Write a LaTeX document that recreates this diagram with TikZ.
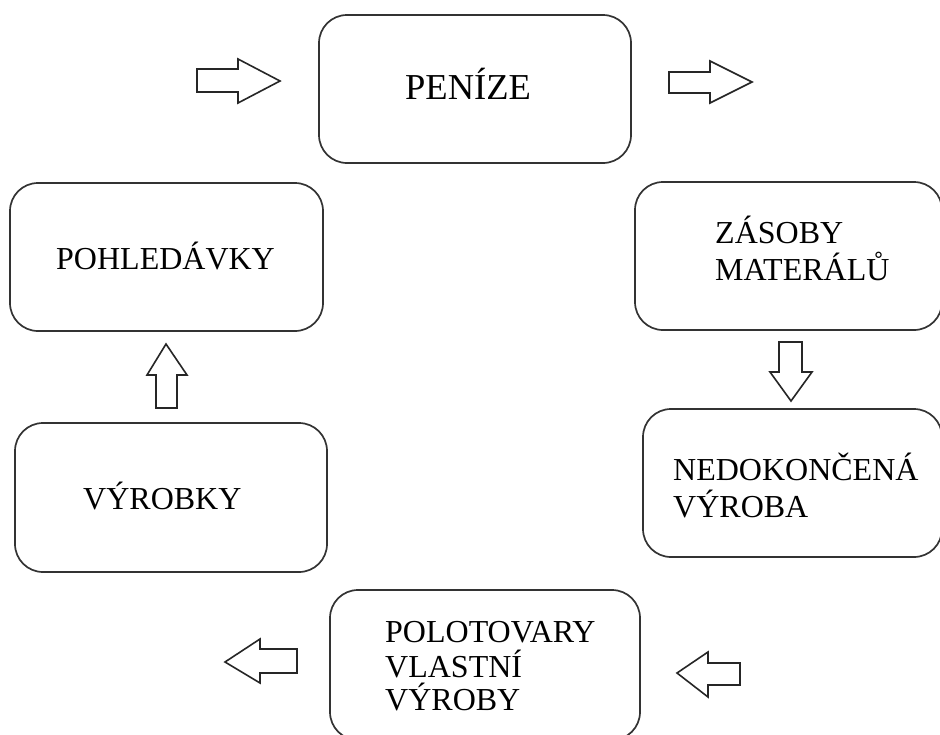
\documentclass[tikz,border=0pt]{standalone}
\usepackage{fontspec}
\setmainfont{Liberation Serif}
\begin{document}
\begin{tikzpicture}[x=1pt,y=-1pt,
  box/.style={draw=black!80, line width=1.7pt, rounded corners=28pt, rectangle, inner sep=0pt},
  blockarrow/.style={draw=black!85, line width=1.6pt, fill=white, line join=miter},
  lbl/.style={anchor=base west, inner sep=0pt, text=black, font=\fontsize{32}{35}\selectfont},
  biglbl/.style={lbl, font=\fontsize{36.5}{40}\selectfont}]
\useasboundingbox (0,0) rectangle (940,734);
\clip (0,0) rectangle (940,734);
\fill[white] (0,0) rectangle (940,734);

% boxes
\node[box, minimum width=312pt, minimum height=148pt] (peni) at (475,89) {};
\node[box, minimum width=313pt, minimum height=148pt] (pohl) at (166.5,257) {};
\node[box, minimum width=307pt, minimum height=148pt] (zaso) at (788.5,256) {};
\node[box, minimum width=299pt, minimum height=148pt] (nedo) at (792.5,483) {};
\node[box, minimum width=312pt, minimum height=149pt] (vyro) at (171,497.5) {};
\node[box, minimum width=310pt, minimum height=150pt] (polo) at (485,665) {};

% labels
\node[biglbl] (tpeni) at (405,99) {PENÍZE};
\node[lbl] (tpohl) at (56,269) {POHLEDÁVKY};
\node[lbl] (tvyro) at (83,509) {VÝROBKY};
\node[lbl] (tzas1) at (715,243) {ZÁSOBY};
\node[lbl] (tzas2) at (715,280) {MATERÁLŮ};
\node[lbl] (tned1) at (673,480) {NEDOKONČENÁ};
\node[lbl] (tned2) at (673,517) {VÝROBA};
\node[lbl] (tpol1) at (385,642) {POLOTOVARY};
\node[lbl] (tpol2) at (385,677) {VLASTNÍ};
\node[lbl] (tpol3) at (385,710) {VÝROBY};

% block arrows
\draw[blockarrow] (197,69) -- (238,69) -- (238,59) -- (280,81) -- (238,103) -- (238,92) -- (197,92) -- cycle;
\draw[blockarrow] (669,72) -- (710,72) -- (710,61) -- (752,82) -- (710,103) -- (710,93) -- (669,93) -- cycle;
\draw[blockarrow] (779,342) -- (802,342) -- (802,372) -- (812,372) -- (791,401) -- (770,372) -- (779,372) -- cycle;
\draw[blockarrow] (156,408) -- (177,408) -- (177,375) -- (187,375) -- (166,344) -- (147,375) -- (156,375) -- cycle;
\draw[blockarrow] (297,649) -- (260,649) -- (260,639) -- (225,662) -- (260,683) -- (260,673) -- (297,673) -- cycle;
\draw[blockarrow] (740,663) -- (708,663) -- (708,652) -- (677,673) -- (708,697) -- (708,685) -- (740,685) -- cycle;
\end{tikzpicture}
\end{document}
